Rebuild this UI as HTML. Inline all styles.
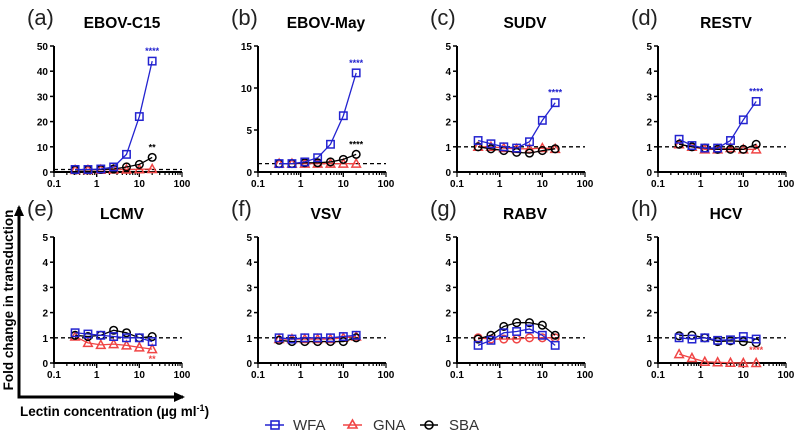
<!DOCTYPE html>
<html><head><meta charset="utf-8"><style>
body{margin:0;background:#fff;width:795px;height:431px;overflow:hidden}
svg{display:block;font-family:"Liberation Sans",Arial,sans-serif}
</style></head><body>
<svg id="fig" width="795" height="431" viewBox="0 0 795 431">
<defs><marker id="ah" markerUnits="userSpaceOnUse" markerWidth="12" markerHeight="12" refX="9" refY="6" orient="auto"><path d="M0,1 L11,6 L0,11 z" fill="#000"/></marker></defs>
<line x1="19" y1="397" x2="19" y2="207" stroke="#000" stroke-width="3" marker-end="url(#ah)"/>
<line x1="17.5" y1="397" x2="183" y2="397" stroke="#000" stroke-width="3" marker-end="url(#ah)"/>
<text x="13" y="300" transform="rotate(-90 13 300)" text-anchor="middle" font-size="13.5" font-weight="bold">Fold change in transduction</text>
<text x="20" y="416" font-size="13.5" font-weight="bold">Lectin concentration (µg ml<tspan dy="-5" font-size="9">-1</tspan><tspan dy="5">)</tspan></text>
<g>
<g><line x1="265" y1="425" x2="284" y2="425" stroke="#2323d0" stroke-width="1.6"/><rect x="271" y="421" width="8" height="8" fill="none" stroke="#2323d0" stroke-width="1.6"/><text x="293" y="430" font-size="15" fill="#333">WFA</text></g>
<g><line x1="343" y1="425" x2="362" y2="425" stroke="#f04545" stroke-width="1.6"/><path d="M352.5,420 L357,428 L348,428 z" fill="none" stroke="#f04545" stroke-width="1.6"/><text x="373" y="430" font-size="15" fill="#333">GNA</text></g>
<g><line x1="420" y1="425" x2="438" y2="425" stroke="#000" stroke-width="1.6"/><circle cx="429" cy="425" r="4" fill="none" stroke="#000" stroke-width="1.6"/><text x="449" y="430" font-size="15" fill="#333">SBA</text></g>
</g>
</svg>
<script>
const xs=[0.3125,0.625,1.25,2.5,5,10,20];
const panelNames=["EBOV-C15","EBOV-May","SUDV","RESTV","LCMV","VSV","RABV","HCV"];
const panelLetters=["(a)","(b)","(c)","(d)","(e)","(f)","(g)","(h)"];
const yMaxes=[50,15,5,5,5,5,5,5];
const yTickSteps=[10,5,1,1,1,1,1,1];
const xTickLabels=["0.1","1","10","100"];
const wfa=[[1,1,1.2,2,7,22,44],[1,1,1.2,1.7,3.3,6.7,11.8],[1.25,1.12,1.0,0.95,1.2,2.05,2.75],[1.3,1.05,0.95,0.95,1.25,2.07,2.8],[1.2,1.15,1.1,1.05,1.0,1.0,0.85],[1.0,0.95,1.0,1.0,1.0,1.05,1.1],[0.7,0.9,1.2,1.25,1.35,1.1,0.7],[1.0,0.95,1.0,0.9,0.92,1.05,0.95]];
const sba=[[0.8,0.9,1,1.2,2,3,5.8],[1,1,1.1,1.1,1.2,1.5,2.1],[1.0,0.92,0.85,0.78,0.75,0.85,0.92],[1.1,1.0,0.95,0.9,0.9,0.9,1.1],[1.1,1.05,1.1,1.3,1.2,1.0,1.05],[0.9,0.85,0.85,0.85,0.85,0.85,1.0],[0.95,1.1,1.45,1.6,1.6,1.5,1.1],[1.08,1.1,1.0,0.85,0.88,0.85,0.8]];
const gna=[[0.8,0.8,0.9,1,1,1.1,1.2],[1,1,1,1,1,1,1],[1.0,1.0,0.95,0.92,0.92,0.95,0.92],[1.1,1.0,0.9,0.9,0.95,0.9,0.9],[1.05,0.8,0.72,0.75,0.7,0.62,0.55],[0.95,0.95,0.95,0.95,0.95,1.0,1.05],[1.0,0.95,0.95,0.95,1.0,1.0,1.0],[0.35,0.2,0.05,0.03,0.01,0,0]];
const stars=[[["****","#2323d0",44],["**","#000",5.8]],[["****","#2323d0",11.8],["****","#000",2.1]],[["****","#2323d0",2.75]],[["****","#2323d0",2.8]],[["**","#f04545",0.55]],[],[],[["****","#f04545",0]]];
const NS="http://www.w3.org/2000/svg",svg=document.getElementById('fig');
function mk(t,a,p){const e=document.createElementNS(NS,t);for(const k in a)e.setAttribute(k,a[k]);(p||svg).appendChild(e);return e;}
const lefts=[54,258,457,658],tops=[46,237],W=128,H=126;
panelNames.forEach((nm,i)=>{
 const L=lefts[i%4],T=tops[Math.floor(i/4)],B=T+H,ym=yMaxes[i];
 const g=mk('g',{});
 
 
 const X=v=>L+(Math.log10(v)+1)/3*W, Y=v=>B-v/ym*H;
 const lt=mk('text',{x:L-27,y:T-21,'font-size':22,fill:'#222'},g);lt.textContent=panelLetters[i];
 
 const tt=mk('text',{x:L+68,y:T-18,'font-size':15.5,'font-weight':'bold','text-anchor':'middle'},g);tt.textContent=nm;
 
 mk('line',{x1:L,y1:T,x2:L,y2:B+1,stroke:'#000','stroke-width':2},g);
 mk('line',{x1:L-1,y1:B,x2:L+W,y2:B,stroke:'#000','stroke-width':2},g);
 for(let v=0;v<=ym+1e-9;v+=yTickSteps[i]){mk('line',{x1:L-4,y1:Y(v),x2:L,y2:Y(v),stroke:'#000','stroke-width':1.5},g);
  const t=mk('text',{x:L-6,y:Y(v)+4,'font-size':10,'font-weight':'bold','text-anchor':'end'},g);t.textContent=v;}
 for(let d=0;d<3;d++)for(let m=1;m<=10;m++){const x=X(Math.pow(10,d-1)*m);mk('line',{x1:x,y1:B,x2:x,y2:B+(m==1||m==10?5:3),stroke:'#000','stroke-width':1.2},g);}
 xTickLabels.forEach(s=>{const t=mk('text',{x:X(parseFloat(s)),y:B+15,'font-size':10,'font-weight':'bold','text-anchor':'middle'},g);t.textContent=s;});
 mk('line',{x1:L,y1:Y(1),x2:L+W,y2:Y(1),stroke:'#000','stroke-width':1.3,'stroke-dasharray':'4,3'},g);
 [[gna[i],'#f04545',i==6?'c':'t','gna'],[sba[i],'#000','c','sba'],[wfa[i],'#2323d0','s','wfa']].forEach(([d,c,sh,n])=>{
  const s=mk('g',{},g);
  mk('polyline',{points:d.map((v,k)=>X(xs[k])+','+Y(v)).join(' '),fill:'none',stroke:c,'stroke-width':1.3},s);
  d.forEach((v,k)=>{const x=X(xs[k]),y=Y(v);let e;
   if(sh=='s')e=mk('rect',{x:x-3.7,y:y-3.7,width:7.4,height:7.4,fill:'none',stroke:c,'stroke-width':1.5},s);
   else if(sh=='c')e=mk('circle',{cx:x,cy:y,r:3.8,fill:'none',stroke:c,'stroke-width':1.5},s);
   else e=mk('path',{d:`M${x},${y-4.5} L${x+4.3},${y+3.5} L${x-4.3},${y+3.5} z`,fill:'none',stroke:c,'stroke-width':1.5},s);
   });
 });
 stars[i].forEach(([s,c,v])=>{const t=mk('text',{x:X(20),y:Y(v)-7,'font-size':9,fill:c,'text-anchor':'middle','font-weight':'bold'},g);t.textContent=s;
  if(i==7){t.setAttribute('y',Y(0.4));}
  if(i==4){t.setAttribute('y',Y(0.55)+13);}
  });
});
</script>
</body></html>
